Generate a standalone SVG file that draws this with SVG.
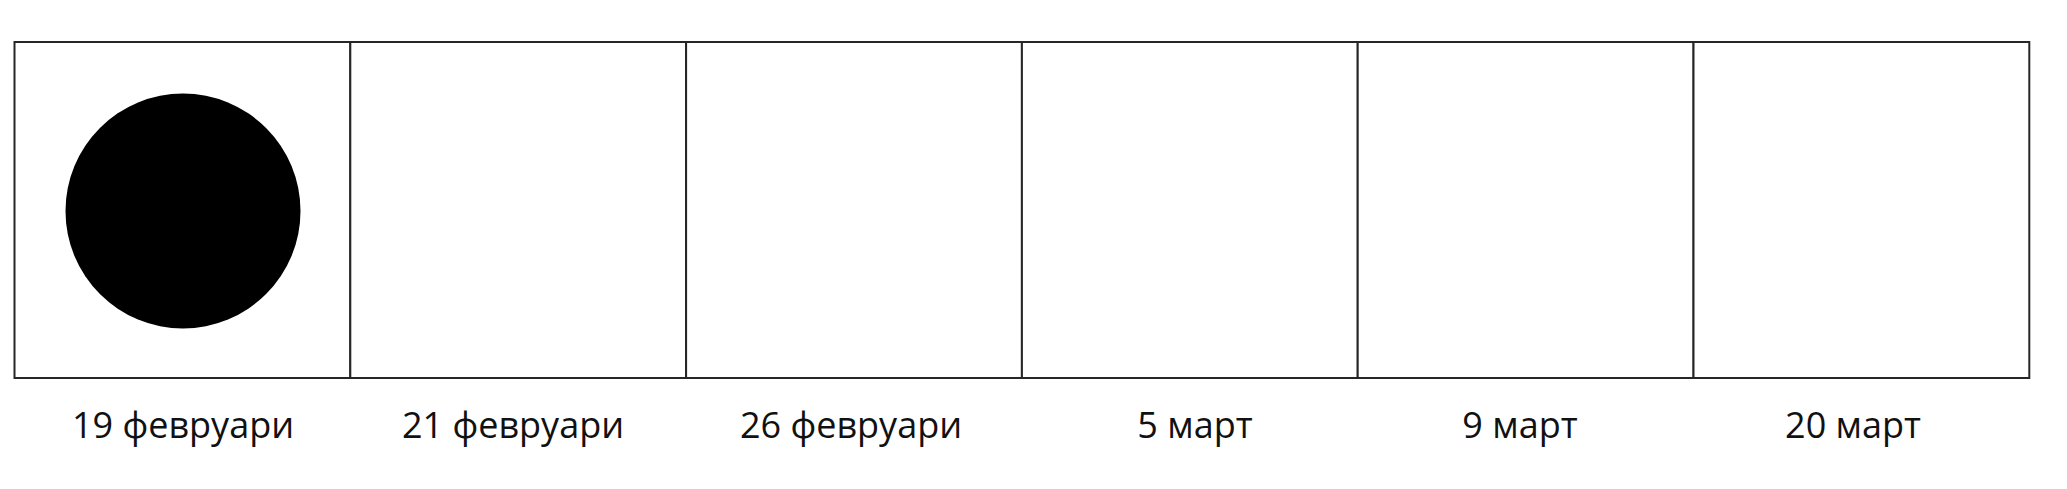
<svg xmlns="http://www.w3.org/2000/svg" width="2067" height="489" viewBox="0 0 2067 489">
<style>
.cell{fill:#fff;stroke:#262626;stroke-width:2}
.lbl{font-family:"Open Sans","Noto Sans",sans-serif;font-size:36px;fill:#111;text-anchor:middle}
</style>
<rect width="2067" height="489" fill="#fff"/>
<g id="cell1"><rect class="cell" x="14.5" y="42" width="335.8" height="336"/><circle cx="183" cy="211" r="117.5" fill="#000"/><text class="lbl" x="183" y="438">19 февруари</text></g>
<g id="cell2"><rect class="cell" x="350.3" y="42" width="335.8" height="336"/><text class="lbl" x="513" y="438">21 февруари</text></g>
<g id="cell3"><rect class="cell" x="686.1" y="42" width="335.8" height="336"/><text class="lbl" x="851" y="438">26 февруари</text></g>
<g id="cell4"><rect class="cell" x="1021.9" y="42" width="335.8" height="336"/><text class="lbl" x="1195" y="438">5 март</text></g>
<g id="cell5"><rect class="cell" x="1357.7" y="42" width="335.8" height="336"/><text class="lbl" x="1520" y="438">9 март</text></g>
<g id="cell6"><rect class="cell" x="1693.5" y="42" width="335.8" height="336"/><text class="lbl" x="1853" y="438">20 март</text></g>
<g id="connectors"/>
</svg>
